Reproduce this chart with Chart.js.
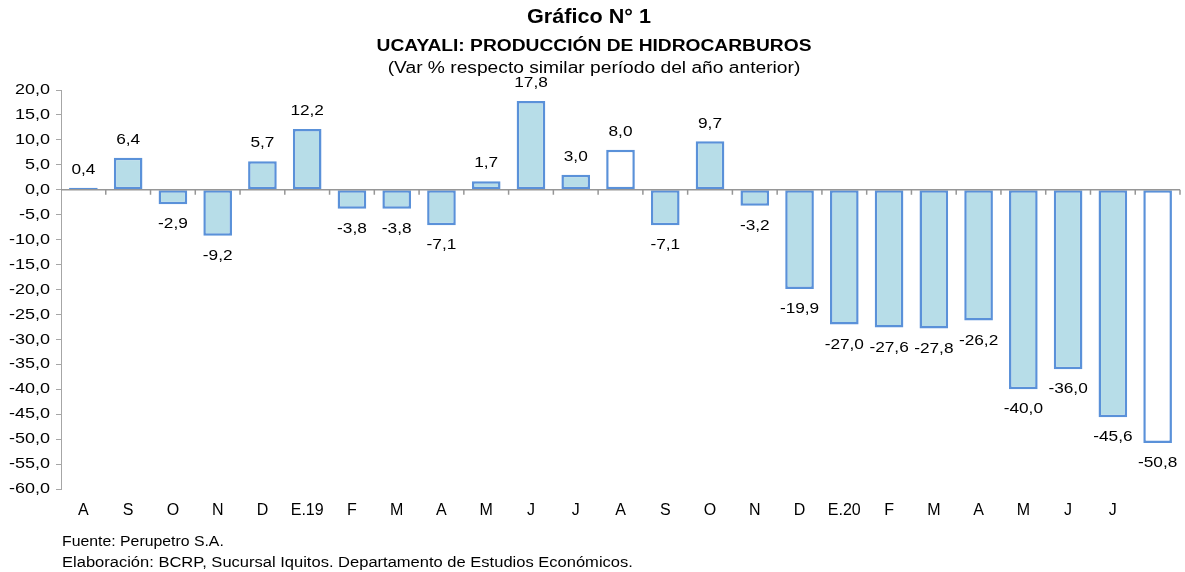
<!DOCTYPE html>
<html><head><meta charset="utf-8">
<script src="https://cdn.jsdelivr.net/npm/chart.js@4"></script>
<style>
html,body{margin:0;padding:0;background:#fff;}
#wrap{position:relative;width:1185px;height:572px;font-family:"Liberation Sans",Arial,sans-serif;color:#000;}
canvas{position:absolute;left:0;top:0;}
.t{position:absolute;left:0;width:1188px;text-align:center;white-space:nowrap;transform-origin:594px 50%;}
.f{position:absolute;left:62px;font-size:14px;white-space:nowrap;transform:scaleX(1.13);transform-origin:0 50%;}
</style></head><body>
<div id="wrap">
<canvas id="c" width="1185" height="572"></canvas>
<div class="t" style="top:5px;font-size:20px;font-weight:bold;transform:scaleX(1.08);width:1178px;transform-origin:589px 50%;">Gráfico N° 1</div>
<div class="t" style="top:37px;font-size:16px;font-weight:bold;transform:scaleX(1.2);">UCAYALI: PRODUCCIÓN DE HIDROCARBUROS</div>
<div class="t" style="top:59px;font-size:16px;transform:scaleX(1.2);">(Var % respecto similar período del año anterior)</div>
<div class="f" style="top:533px;">Fuente: Perupetro S.A.</div>
<div class="f" style="top:554px;transform:scaleX(1.18);">Elaboración: BCRP, Sucursal Iquitos. Departamento de Estudios Económicos.</div>
</div>
<script>
const categories = ["A","S","O","N","D","E.19","F","M","A","M","J","J","A","S","O","N","D","E.20","F","M","A","M","J","J",""];
const values = [0.4,6.4,-2.9,-9.2,5.7,12.2,-3.8,-3.8,-7.1,1.7,17.8,3.0,8.0,-7.1,9.7,-3.2,-19.9,-27.0,-27.6,-27.8,-26.2,-40.0,-36.0,-45.6,-50.8];
const hollowIndex = [12,24];
const yMin = -60, yMax = 20, yStep = 5;

const fillColors = values.map((v,i)=>hollowIndex.includes(i)?'#ffffff':'#b7dde8');
const fmt = v => v.toFixed(1).replace('.', ',');
const FONT = '"Liberation Sans", Arial, sans-serif';

const labelPlugin = {
  id:'vals',
  afterDatasetsDraw(chart){
    const ctx = chart.ctx;
    const xs = chart.scales.x, ys = chart.scales.y;
    const y0 = ys.getPixelForValue(0);
    ctx.save();
    ctx.strokeStyle = '#969696';
    ctx.lineWidth = 1.5;
    ctx.beginPath();
    ctx.moveTo(chart.chartArea.left, y0);
    ctx.lineTo(chart.chartArea.right, y0);
    const half = (xs.getPixelForValue(1)-xs.getPixelForValue(0))/2;
    for(let i=0;i<categories.length;i++){
      const bx = xs.getPixelForValue(i)+half;
      ctx.moveTo(bx, y0);
      ctx.lineTo(bx, y0+5);
    }
    ctx.stroke();
    ctx.fillStyle = '#000';
    ctx.font = '15px ' + FONT;
    ctx.textAlign = 'center';
    ctx.textBaseline = 'middle';
    chart.getDatasetMeta(0).data.forEach((el,i)=>{
      const v = values[i];
      const y = v>=0 ? el.y-18 : el.y+20;
      ctx.save();
      ctx.translate(el.x, y);
      ctx.scale(1.15, 1);
      ctx.fillText(fmt(v), 0, 0);
      ctx.restore();
    });
    ctx.restore();
  }
};

new Chart(document.getElementById('c'), {
  type:'bar',
  data:{labels:categories, datasets:[{
    data:values,
    backgroundColor:fillColors,
    borderColor:'#5a91d9',
    borderWidth:2.5,
    borderSkipped:false,
    barPercentage:0.64,
    categoryPercentage:1
  }]},
  options:{
    responsive:false, animation:false,
    layout:{padding:{top:90,right:5,bottom:43,left:0}},
    plugins:{legend:{display:false},tooltip:{enabled:false},title:{display:false}},
    scales:{
      x:{
        grid:{display:false},
        border:{display:false},
        ticks:{color:'#000',font:{family:FONT,size:16},padding:4,maxRotation:0,autoSkip:false},
        afterFit(s){s.height=40;}
      },
      y:{
        min:yMin,max:yMax,
        grid:{drawOnChartArea:false,drawTicks:true,tickLength:5,color:'#a6a6a6'},
        border:{display:true,color:'#a6a6a6',width:1},
        ticks:{stepSize:yStep,color:'#000',padding:6,font:{family:FONT,size:15},callback:v=>fmt(v)},
        afterFit(s){
          s.width=61;
          if(!s._stretched){
            const orig = s.drawLabels;
            s.drawLabels = function(a){
              const c = this.ctx, px = 50;
              c.save(); c.translate(px,0); c.scale(1.2,1); c.translate(-px,0);
              orig.call(this,a);
              c.restore();
            };
            s._stretched = true;
          }
        }
      }
    }
  },
  plugins:[labelPlugin]
});
</script>
</body></html>
